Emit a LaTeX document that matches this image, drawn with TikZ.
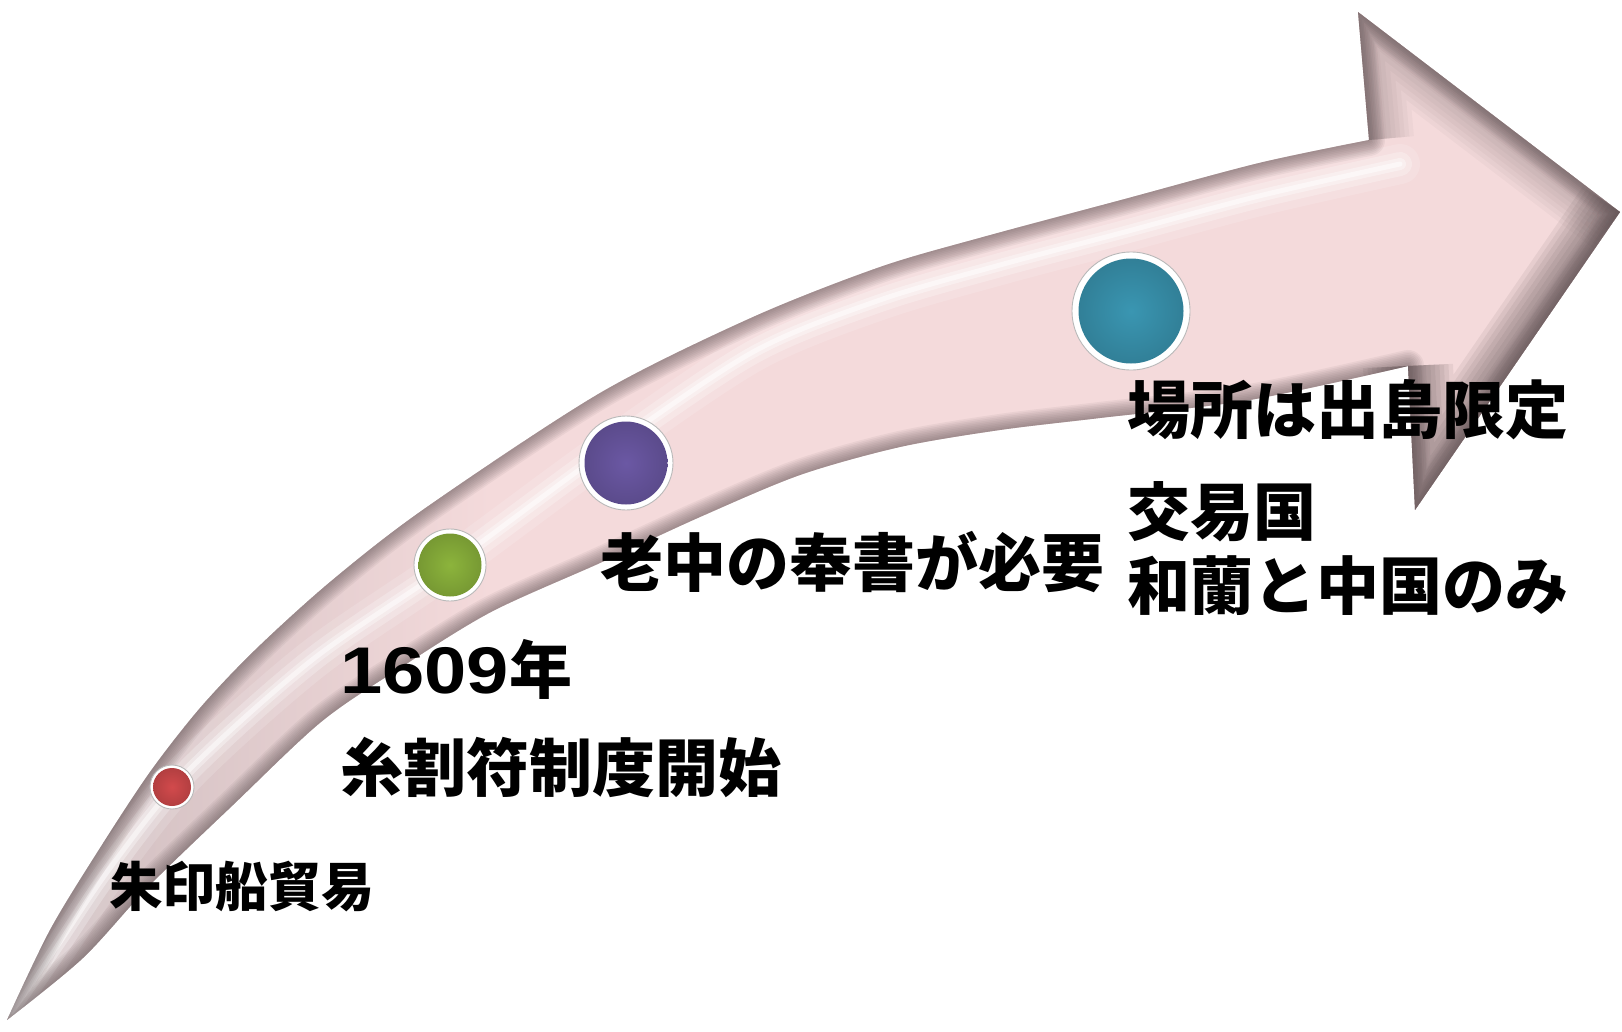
\documentclass[tikz,border=0pt]{standalone}
\usepackage{fontspec}
\usepackage{graphicx}
\newfontfamily\jp{Noto Sans CJK JP}
\newfontfamily\numfont{Liberation Sans}
\definecolor{pinkbase}{HTML}{F4DADB}
\definecolor{tailgray}{HTML}{CBBBBD}
\definecolor{edgedark}{HTML}{5E5052}
\definecolor{beadred}{HTML}{D24A4C}
\definecolor{beadgreen}{HTML}{8CB43C}
\definecolor{beadpurple}{HTML}{6B58A4}
\definecolor{beadteal}{HTML}{3A96B2}
\pgfdeclarehorizontalshading{arrowbase}{100bp}{color(0bp)=(tailgray); color(25bp)=(tailgray); color(40bp)=(pinkbase); color(100bp)=(pinkbase)}
\begin{document}
\begin{tikzpicture}[x=1pt,y=-1pt,
  lbl/.style={anchor=west, inner sep=0pt, text=black, font=\jp\bfseries\fontsize{63}{70}\selectfont},
  ring/.style={circle, fill=white, draw=gray!55, line width=0.9pt, inner sep=0pt},
  core/.style={circle, inner sep=0pt, draw=none, inner color=#1, outer color=#1!85!black}]
\useasboundingbox (0,0) rectangle (1622,1031);
\def\arrowpath{(7,1020) -- plot[smooth] coordinates {(7,1020) (50,930) (100,848) (150,772) (200,708) (255,650) (330,582) (424,509) (600,393) (753,317) (880,267) (983,237) (1121,200) (1259,163) (1369,140)} -- (1358,12) -- (1620,212) -- (1415,510) -- (1408,366) -- plot[smooth] coordinates {(1408,366) (1250,400) (1100,418) (1000,430) (900,447) (800,475) (700,517) (600,563) (491,612) (400,668) (321,722) (233,805) (150,885) (83,958) (7,1020)} -- cycle}
\shade[shading=arrowbase] \arrowpath;
\begin{scope}
  \clip \arrowpath;
  % highlight stripe
  \foreach \w/\o in {40/0.15, 24/0.25, 12/0.35, 5/0.5} {
    \draw[white, line width={\w pt}, opacity=\o, line cap=round] plot[smooth] coordinates {(12,1012) (60,942) (110,868) (187,772) (312,660) (450,565) (600,455) (753,352) (880,300) (1000,265) (1121,233) (1259,196) (1400,164)};
  }
  % bevel along whole outline
  \foreach \i in {1,...,10} {
    \draw[edgedark, opacity=0.07, line width={3.2pt*\i}, line join=round] \arrowpath;
  }
  % head bevel
  \foreach \i in {1,...,10} {
    \draw[edgedark, opacity=0.045, line width={9pt*\i}] (1369,140) -- (1358,12) -- (1620,212);
    \draw[edgedark, opacity=0.09, line width={9pt*\i}] (1620,212) -- (1415,510) -- (1408,366);
  }
\end{scope}
% beads
\node[ring, minimum size=44pt] (b1) at (172,787) {};
\node[core=beadred, minimum size=38pt] (b1c) at (b1) {};
\node[ring, minimum size=72pt] (b2) at (450,565) {};
\node[core=beadgreen, minimum size=63pt] (b2c) at (b2) {};
\node[ring, minimum size=94pt] (b3) at (626,463) {};
\node[core=beadpurple, minimum size=83pt] (b3c) at (b3) {};
\node[ring, minimum size=118pt] (b4) at (1131,311) {};
\node[core=beadteal, minimum size=105pt] (b4c) at (b4) {};
% labels
\node[lbl, font=\jp\bfseries\fontsize{53}{60}\selectfont] (t1) at (109,887) {朱印船貿易};
\node[lbl] (t2) at (340,669) {{\numfont\bfseries\fontsize{66}{70}\selectfont\scalebox{1.15}[1]{1609}}年};
\node[lbl] (t3) at (340,767) {糸割符制度開始};
\node[lbl] (t4) at (600,562) {老中の奉書が必要};
\node[lbl] (t5) at (1127,410) {場所は出島限定};
\node[lbl] (t6) at (1127,512) {交易国};
\node[lbl] (t7) at (1127,586) {和蘭と中国のみ};
\end{tikzpicture}
\end{document}
